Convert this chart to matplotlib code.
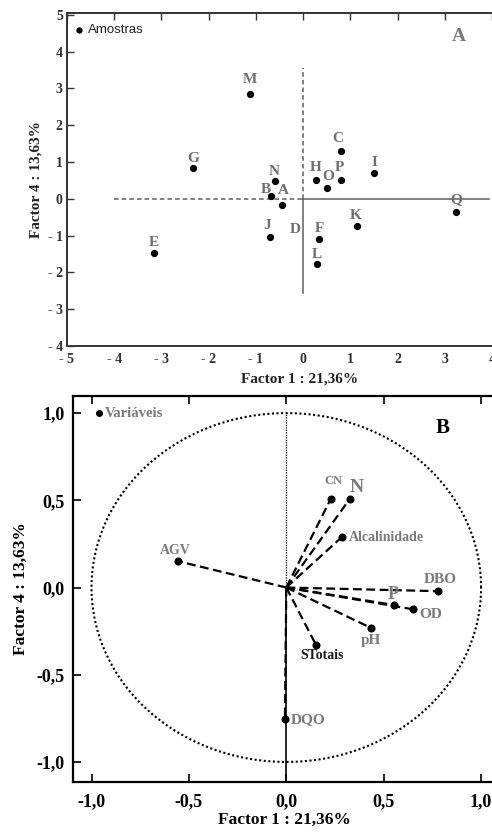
import numpy as np
import matplotlib
matplotlib.use('Agg')
import matplotlib.pyplot as plt

plt.rcParams['font.family'] = ['Liberation Serif', 'DejaVu Serif']

# panel A: sample scores
samples = ['G', 'M', 'N', 'B', 'A', 'J', 'H', 'O', 'P', 'C', 'I', 'K', 'F', 'L', 'E', 'Q']
f1_samples = [-2.33, -1.12, -0.59, -0.69, -0.45, -0.71, 0.28, 0.51, 0.80, 0.80, 1.50, 1.14, 0.34, 0.30, -3.16, 3.24]
f4_samples = [0.83, 2.85, 0.49, 0.08, -0.16, -1.04, 0.52, 0.29, 0.52, 1.30, 0.70, -0.75, -1.10, -1.78, -1.48, -0.35]
# sample D appears only as a label near the axis
d_label = ('D', -0.17, -0.84)

a_xticks = [-5, -4, -3, -2, -1, 0, 1, 2, 3, 4]
a_xlabels = ['- 5', '- 4', '- 3', '- 2', '- 1', '0', '1', '2', '3', '4']
a_yticks = [-4, -3, -2, -1, 0, 1, 2, 3, 4, 5]
a_ylabels = ['- 4', '- 3', '- 2', '- 1', '0', '1', '2', '3', '4', '5']

# panel B: variable loadings
variables = ['AGV', 'CN', 'N', 'Alcalinidade', 'DBO', 'P', 'OD', 'pH', 'STotais', 'DQO']
f1_vars = [-0.556, 0.229, 0.327, 0.285, 0.779, 0.552, 0.651, 0.436, 0.152, -0.007]
f4_vars = [0.151, 0.51, 0.51, 0.289, -0.021, -0.10, -0.125, -0.232, -0.328, -0.755]

b_ticks = [-1.0, -0.5, 0.0, 0.5, 1.0]
b_labels = ['-1,0', '-0,5', '0,0', '0,5', '1,0']

xlab = 'Factor 1 : 21,36%'
ylab = 'Factor 4 : 13,63%'

# label offsets in pixels (dx, dy, ha, size, color)
a_off = {'G': (0, 10), 'M': (0, 14), 'N': (-1, 9), 'B': (-5, 6), 'A': (1, 14), 'J': (-2, 12),
         'H': (-1, 12), 'O': (1, 12), 'P': (-1, 12), 'C': (-3, 12), 'I': (1, 11), 'K': (-1, 11),
         'F': (0, 11), 'L': (0, 10), 'E': (0, 11), 'Q': (0, 12)}
b_off = {'AGV': (-3, 11, 'center', 10, '#7a7a7a'), 'CN': (2, 18, 'center', 9, '#7a7a7a'),
         'N': (7, 11, 'center', 14, '#7a7a7a'), 'Alcalinidade': (7, 0, 'left', 10, '#7a7a7a'),
         'DBO': (2, 12, 'center', 11, '#7a7a7a'), 'P': (-1, 10, 'center', 13, '#7a7a7a'),
         'OD': (6, -5, 'left', 11, '#7a7a7a'), 'pH': (0, -13, 'center', 11, '#7a7a7a'),
         'STotais': (6, -11, 'center', 10, '#1a1a1a'), 'DQO': (6, 0, 'left', 11, '#7a7a7a')}

fig = plt.figure(figsize=(4.92, 8.32), dpi=100)

# ---------------- panel A ----------------
ax1 = fig.add_axes([67 / 492, 1 - 346 / 832, 1 - 67 / 492, 333 / 832])
ax1.set_xlim(-5, 4)
ax1.set_ylim(-4, 5.05)
grey = '#5e5e5e'
ax1.plot([-4, 0], [0, 0], ls=(0, (3, 2)), color=grey, lw=1.1)
ax1.plot([0, 3.93], [0, 0], color=grey, lw=1.1)
ax1.plot([0, 0], [0, 3.56], ls=(0, (3, 2)), color=grey, lw=1.1)
ax1.plot([0, 0], [0, -2.55], color=grey, lw=1.1)
ax1.plot(f1_samples, f4_samples, 'o', color='black', ms=4.2)
for s, x, y in zip(samples, f1_samples, f4_samples):
    dx, dy = a_off[s]
    ax1.annotate(s, (x, y), xytext=(dx, dy), textcoords='offset pixels', ha='center',
                 va='center', fontsize=11, fontweight='bold', color='#6e6e6e')
ax1.text(d_label[1], d_label[2], d_label[0], ha='center', va='center', fontsize=11,
         fontweight='bold', color='#6e6e6e')
ax1.plot([-4.75], [4.58], 'o', color='black', ms=3.5)
ax1.text(-4.55, 4.58, 'Amostras', fontsize=9.5, family='Liberation Sans', color='#222222', va='center')
ax1.text(3.3, 4.4, 'A', fontsize=14, fontweight='bold', color='#777777', ha='center', va='center')

ax1.set_xticks(a_xticks)
ax1.set_xticklabels(a_xlabels)
ax1.set_yticks(a_yticks)
ax1.set_yticklabels(a_ylabels)
ax1.tick_params(axis='both', direction='in', length=5, width=1, labelsize=10, colors='#333333')
ax1.tick_params(axis='x', bottom=False, top=True, pad=5)
ax1.tick_params(axis='y', pad=3)
for t in ax1.get_xticklabels() + ax1.get_yticklabels():
    t.set_fontweight('bold')
ax1.spines['right'].set_visible(False)
for sp in ['left', 'top', 'bottom']:
    ax1.spines[sp].set_linewidth(1.4)
    ax1.spines[sp].set_color('#333333')
ax1.set_xlabel(xlab, fontsize=11, fontweight='bold', color='#222222')
ax1.xaxis.set_label_coords(0.548, -0.081)
ax1.set_ylabel(ylab, fontsize=11, fontweight='bold', color='#222222')
ax1.yaxis.set_label_coords(-0.058, 0.5)

# ---------------- panel B ----------------
ax2 = fig.add_axes([73 / 492, 1 - 782 / 832, 1 - 73 / 492, 386 / 832])
ax2.set_xlim(-1.095, 1.056)
ax2.set_ylim(-1.115, 1.098)
th = np.linspace(0, 2 * np.pi, 400)
ax2.plot(np.cos(th), np.sin(th), ls=(0, (1, 1.2)), color='black', lw=1.5)
ax2.plot([0, 0], [0, 1], ls=(0, (1, 1)), color='black', lw=0.9)
ax2.plot([0, 0], [0, -1.115], color='black', lw=1.2)
for v, x, y in zip(variables, f1_vars, f4_vars):
    ax2.plot([0, x], [0, y], ls=(0, (4, 2)), color='black', lw=1.6)
ax2.plot(f1_vars, f4_vars, 'o', color='black', ms=4.8)
for v, x, y in zip(variables, f1_vars, f4_vars):
    dx, dy, ha, sz, c = b_off[v]
    ax2.annotate(v, (x, y), xytext=(dx, dy), textcoords='offset pixels', ha=ha, va='center',
                 fontsize=sz, fontweight='bold', color=c)
ax2.plot([-0.96], [1.0], 'o', color='black', ms=4)
ax2.text(-0.93, 1.0, 'Variáveis', fontsize=10.5, fontweight='bold', color='#7a7a7a', va='center')
ax2.text(0.805, 0.915, 'B', fontsize=15, fontweight='bold', color='black', ha='center', va='center')

ax2.set_xticks(b_ticks)
ax2.set_xticklabels(b_labels)
ax2.set_yticks(b_ticks)
ax2.set_yticklabels(b_labels)
ax2.tick_params(axis='both', direction='in', length=6, width=1.2, labelsize=13, colors='black')
ax2.tick_params(axis='x', top=True, pad=8)
ax2.tick_params(axis='y', pad=6)
for t in ax2.get_xticklabels() + ax2.get_yticklabels():
    t.set_fontweight('bold')
ax2.spines['right'].set_visible(False)
for sp in ['left', 'top', 'bottom']:
    ax2.spines[sp].set_linewidth(1.6)
ax2.set_xlabel(xlab, fontsize=12.5, fontweight='bold')
ax2.xaxis.set_label_coords(0.504, -0.078)
ax2.set_ylabel(ylab, fontsize=12.5, fontweight='bold')
ax2.yaxis.set_label_coords(-0.105, 0.5)

fig.savefig('out.png', dpi=100)
